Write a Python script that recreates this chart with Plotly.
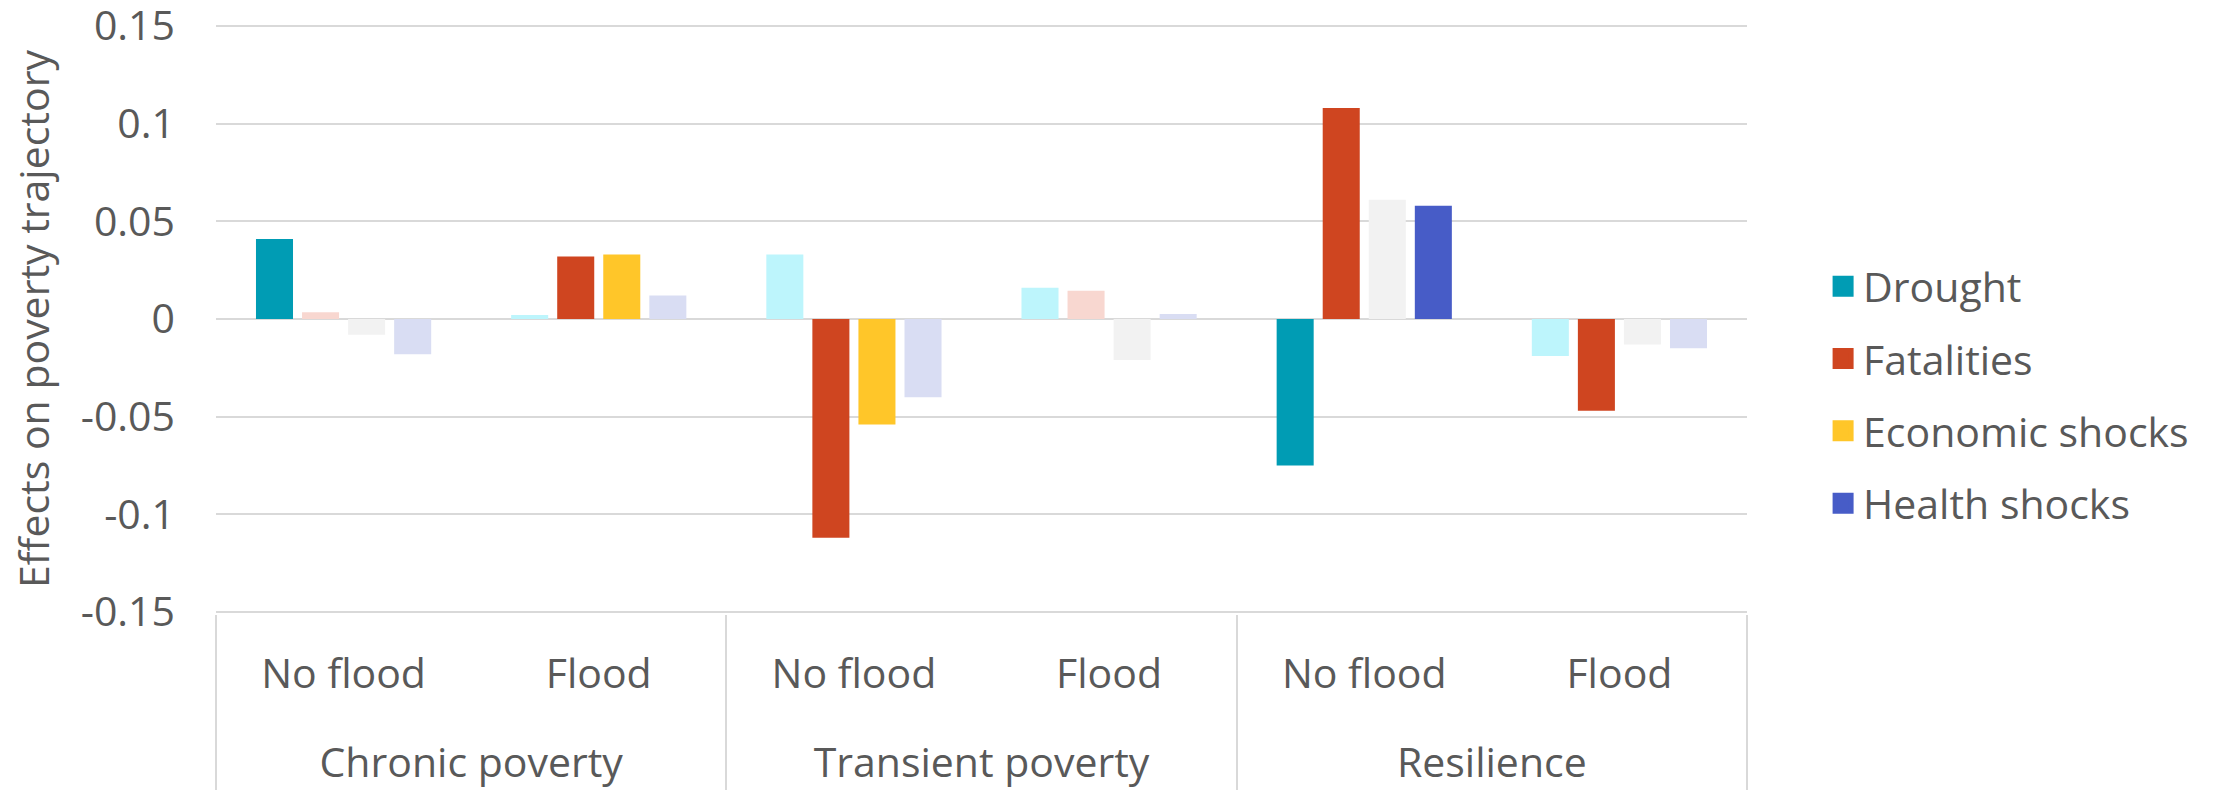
import plotly.graph_objects as go

# ---- data ----
outcomes = ["Chronic poverty", "Chronic poverty", "Transient poverty", "Transient poverty", "Resilience", "Resilience"]
flood_status = ["No flood", "Flood", "No flood", "Flood", "No flood", "Flood"]

series_names = ["Drought", "Fatalities", "Economic shocks", "Health shocks"]
drought = [0.041, 0.002, 0.033, 0.016, -0.075, -0.019]
fatalities = [0.0035, 0.032, -0.112, 0.0145, 0.108, -0.047]
economic = [-0.008, 0.033, -0.054, -0.021, 0.061, -0.013]
health = [-0.018, 0.012, -0.040, 0.0025, 0.058, -0.015]

# significant (solid colour) vs not significant (faded colour)
drought_sig = [True, False, False, False, True, False]
fatalities_sig = [False, True, True, False, True, True]
economic_sig = [False, True, True, False, False, False]
health_sig = [False, False, False, False, True, False]

y_tickvals = [0.15, 0.1, 0.05, 0, -0.05, -0.1, -0.15]
y_ticktext = ["0.15", "0.1", "0.05", "0", "-0.05", "-0.1", "-0.15"]

# ---- style ----
solid = ["#009CB4", "#CF4520", "#FFC629", "#475CC7"]
faded = ["#BDF5FC", "#F8D7D0", "#F2F2F2", "#D9DDF3"]
FONT = "Open Sans"
TXT = "#595959"
GRID = "#D9D9D9"

values = [drought, fatalities, economic, health]
sigs = [drought_sig, fatalities_sig, economic_sig, health_sig]

# spacer line under the first-level labels (sets the gap between label rows)
flood_labels = [f + "<br><span style='font-size:74px'>&nbsp;</span>" for f in flood_status]

fig = go.Figure()
for i, name in enumerate(series_names):
    colors = [solid[i] if s else faded[i] for s in sigs[i]]
    fig.add_trace(go.Bar(
        name=name,
        x=[outcomes, flood_labels],
        y=values[i],
        marker=dict(color=colors, line=dict(width=0)),
        offsetgroup=str(i),
        showlegend=False,
    ))

# legend entries in the solid series colours (on hidden helper axes)
for i, name in enumerate(series_names):
    fig.add_trace(go.Scatter(
        name=name, x=[None], y=[None], mode="markers",
        marker=dict(symbol="square", size=16, color=solid[i],
                    line=dict(width=5, color=solid[i])),
        xaxis="x2", yaxis="y2", legendgroup=name, showlegend=True,
    ))

fig.update_layout(
    width=2220, height=790,
    margin=dict(l=216, r=473, t=24, b=176, autoexpand=False),
    paper_bgcolor="white", plot_bgcolor="white",
    font=dict(family=FONT, size=41, color=TXT),
    barmode="group", bargap=0.278, bargroupgap=0.196,
    showlegend=True,
    legend=dict(x=1.0497, xanchor="left", y=0.371, yanchor="middle",
                font=dict(size=41, color=TXT), traceorder="grouped",
                tracegroupgap=16, bgcolor="rgba(0,0,0,0)"),
    hovermode=False,
    xaxis2=dict(visible=False, overlaying="x", range=[0, 1], automargin=False),
    yaxis2=dict(visible=False, overlaying="y", range=[0, 1], automargin=False),
)
fig.layout.yaxis.update(
    range=[-0.151, 0.151], tickvals=y_tickvals, ticktext=y_ticktext,
    automargin=False,
    showgrid=True, gridcolor=GRID, gridwidth=2,
    zeroline=True, zerolinecolor=GRID, zerolinewidth=2,
    showline=False, ticks="", ticklabelstandoff=40, ticklabeloverflow="allow",
    tickfont=dict(size=41, color=TXT),
    title=dict(text="Effects on poverty trajectory", font=dict(size=41, color=TXT), standoff=18),
)
fig.layout.xaxis.update(
    type="multicategory", automargin=False,
    showline=False, ticks="", showgrid=False,
    showdividers=True, dividercolor=GRID, dividerwidth=2,
    tickfont=dict(size=41, color=TXT),
    ticklabelstandoff=32, ticklabeloverflow="allow",
)

fig.write_html("out.html")
